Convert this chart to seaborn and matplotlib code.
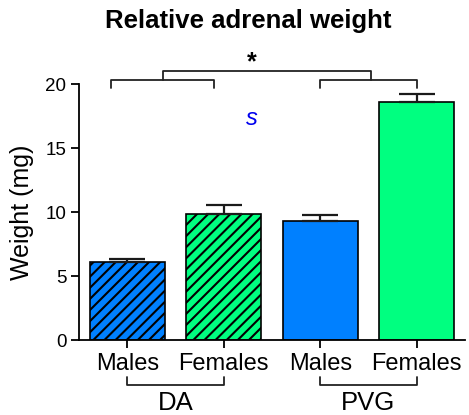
import numpy as np
import pandas as pd
import seaborn as sns
import matplotlib.pyplot as plt
from matplotlib.transforms import blended_transform_factory

# values
groups = ["DA", "DA", "PVG", "PVG"]
sexes = ["Males", "Females", "Males", "Females"]
means = [6.08, 9.87, 9.32, 18.6]
sems = [0.3, 0.7, 0.5, 0.6]
bar_colors = ["#0080FF", "#00FF80", "#0080FF", "#00FF80"]
hatched = [True, True, False, False]
group_labels = ["DA", "PVG"]


def draw_chart():
    sns.set_style("ticks")
    plt.rcParams["font.family"] = ["Liberation Sans", "DejaVu Sans"]
    plt.rcParams["hatch.linewidth"] = 1.5
    plt.rcParams["text.color"] = "black"
    plt.rcParams["axes.labelcolor"] = "black"
    plt.rcParams["xtick.color"] = "black"
    plt.rcParams["ytick.color"] = "black"
    plt.rcParams["axes.edgecolor"] = "black"

    df = pd.DataFrame({"bar": [f"{g} {s}" for g, s in zip(groups, sexes)],
                       "mean": means})

    fig = plt.figure(figsize=(4.69, 4.15), dpi=100)
    ax = fig.add_axes([0.1684, 0.18, 0.823, 0.617])

    sns.barplot(data=df, x="bar", y="mean", hue="bar", palette=bar_colors,
                legend=False, width=0.78, edgecolor="black", linewidth=1.2,
                saturation=1, ax=ax)
    for patch, h in zip(ax.patches, hatched):
        if h:
            patch.set_hatch("///")

    x = np.arange(len(means))
    ax.errorbar(x, means, yerr=[np.zeros(len(sems)), sems], fmt="none",
                ecolor="#1a1a1a", elinewidth=1.6, capsize=13, capthick=1.6, zorder=1)

    ax.set_xlim(-0.5, 3.5)
    ax.set_ylim(0, 20)
    ax.set_yticks([0, 5, 10, 15, 20])
    ax.set_xticks(x)
    ax.set_xticklabels(sexes, fontsize=17)
    ax.tick_params(axis="y", labelsize=13.5, length=6, width=1.3, pad=3)
    ax.tick_params(axis="x", length=6, width=1.3, pad=3)
    ax.set_xlabel("")
    ax.set_ylabel("Weight (mg)", fontsize=18, labelpad=8)
    for side in ["left", "bottom"]:
        ax.spines[side].set_linewidth(1.3)
    sns.despine(ax=ax)

    fig.text(0.53, 0.95, "Relative adrenal weight", ha="center", va="center",
             fontsize=18.5, fontweight="bold")

    # significance brackets above the bars
    bk = dict(color="#222222", lw=1.3, clip_on=False)
    ax.plot([-0.165, -0.165, 0.9, 0.9], [19.7, 20.3, 20.3, 19.7], **bk)
    ax.plot([2.0, 2.0, 3.0, 3.0], [19.7, 20.3, 20.3, 19.7], **bk)
    ax.plot([0.37, 0.37, 2.53, 2.53], [20.3, 21.0, 21.0, 20.3], **bk)
    ax.text(1.29, 20.75, "*", ha="center", va="bottom", fontsize=18, fontweight="bold")
    ax.text(1.29, 17.35, "s", ha="center", va="center", fontsize=17,
            color="#0000EE", fontstyle="italic")

    # group brackets under the tick labels
    trans = blended_transform_factory(ax.transData, ax.transAxes)
    for i, lab in enumerate(group_labels):
        x0, x1 = 2 * i, 2 * i + 1
        ax.plot([x0, x0, x1, x1], [-0.144, -0.175, -0.175, -0.144],
                transform=trans, **bk)
        ax.text((x0 + x1) / 2, -0.245, lab, transform=trans, ha="center",
                va="center", fontsize=18.5)

    fig.savefig("out.png", dpi=100)


if __name__ == "__main__":
    draw_chart()
